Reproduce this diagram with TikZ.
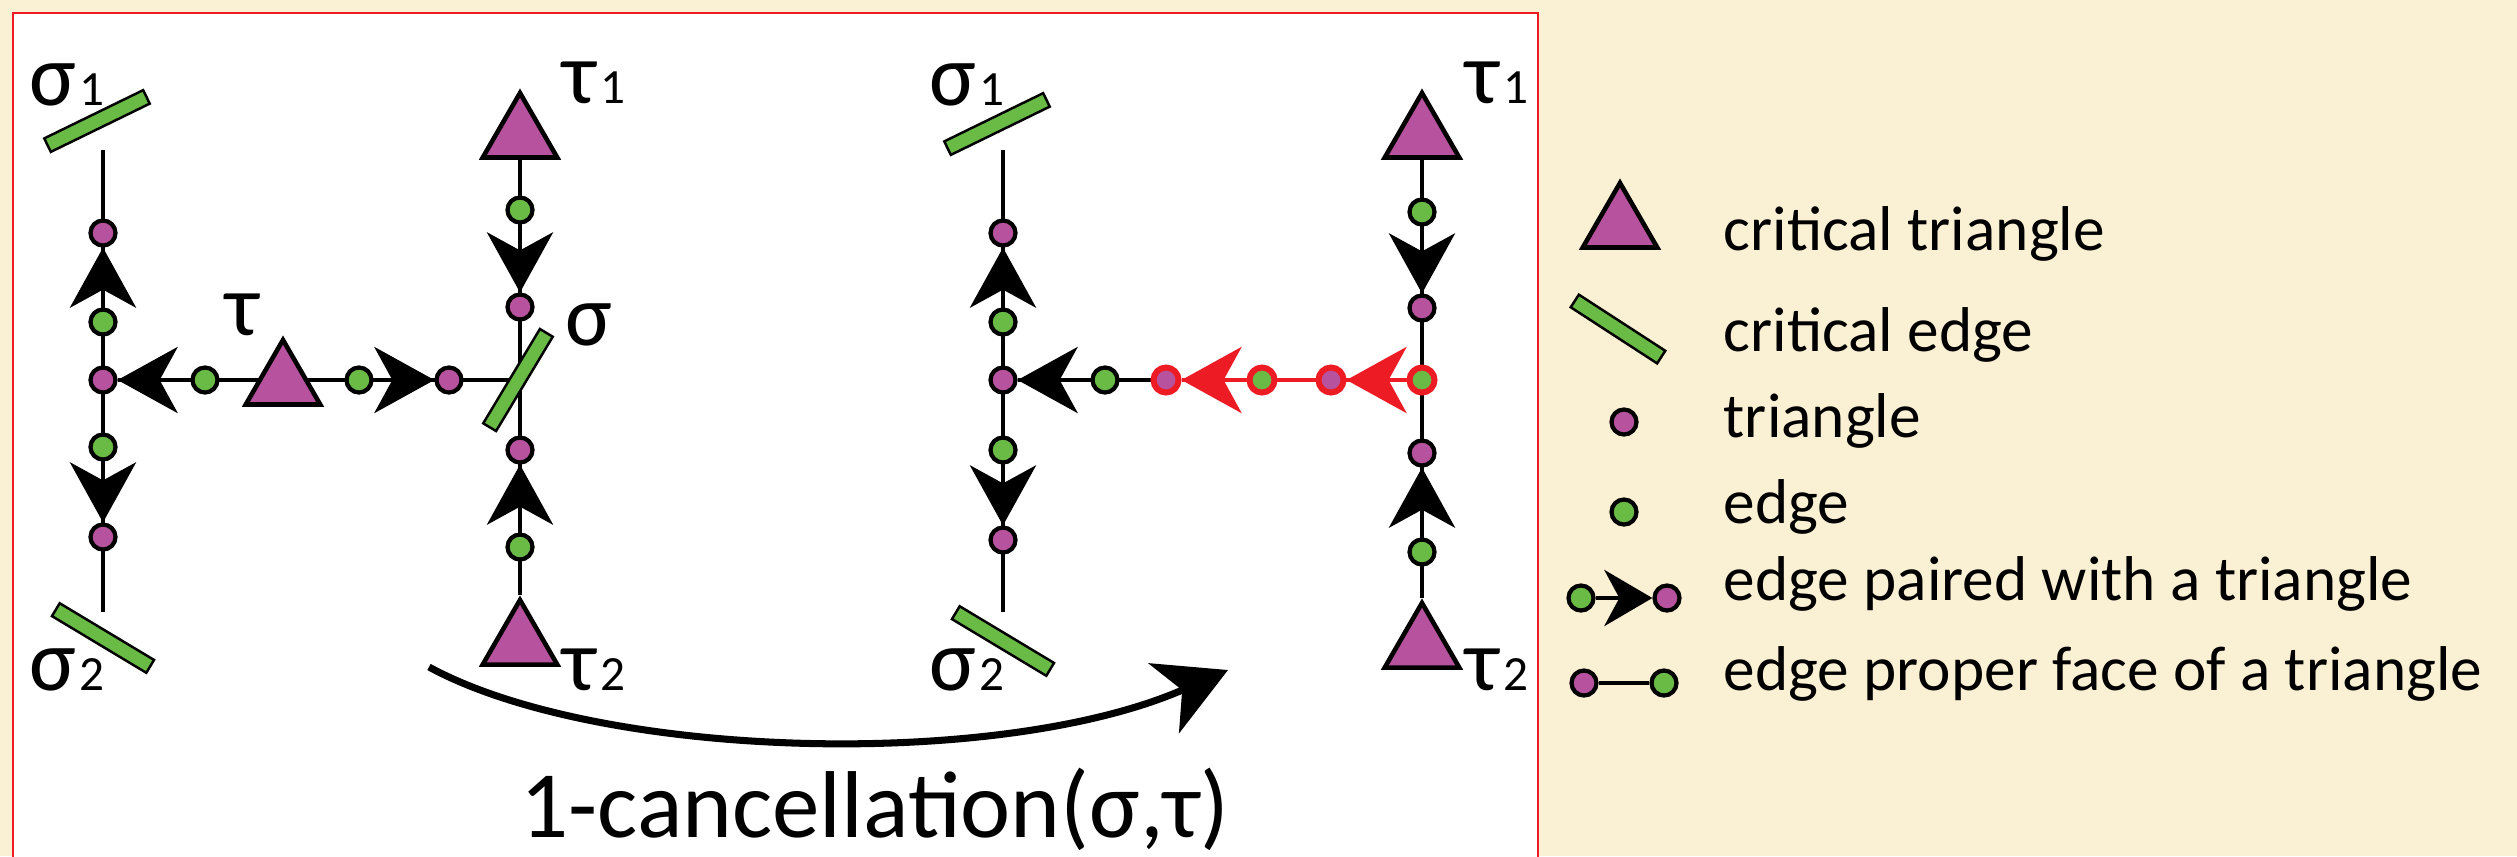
\documentclass[tikz,border=0pt]{standalone}
\usepackage{fontspec}
\setmainfont{Carlito}
\usetikzlibrary{positioning,arrows.meta,shapes.geometric,backgrounds}
\definecolor{cellmag}{RGB}{183,82,158}
\definecolor{cellgrn}{RGB}{106,187,69}
\definecolor{cellred}{RGB}{237,28,36}
\definecolor{paper}{RGB}{250,240,211}

\tikzset{
  tri/.style={circle,draw=black,fill=cellmag,line width=1.2pt,inner sep=0pt,minimum size=2.5mm},
  edg/.style={tri,fill=cellgrn},
  hot/.style={draw=cellred,line width=1.7pt},
  crittri/.style={regular polygon,regular polygon sides=3,draw=black,fill=cellmag,
                  line width=1.3pt,inner sep=0pt,minimum size=8.6mm},
  critedge/.style={rectangle,draw=black,fill=cellgrn,line width=0.7pt,inner sep=0pt,
                   minimum width=11mm,minimum height=1.5mm},
  link/.style={line width=1.4pt},
  pair/.style={link,-{Stealth[length=6mm,width=6.6mm,inset=1.8mm]}},
  lbl/.style={font=\fontsize{25}{25}\selectfont,inner sep=0pt,anchor=base west},
  legtext/.style={font=\fontsize{18}{18}\selectfont,inner sep=0pt,anchor=base west},
}
\newcommand{\simpl}[2]{#1\kern1pt{\fontsize{14}{14}\selectfont #2}}

\begin{document}
\begin{tikzpicture}[x=0.01cm,y=-0.01cm]
  \useasboundingbox (0,0) rectangle (2517,856);

  % ---- before: left diagram
  \coordinate (Ltop) at (103,150);
  \coordinate (Lbot) at (103,612);
  \coordinate (Lrj) at (520,380);
  \node[tri] (Lm1) at (103,233) {};
  \node[edg] (Lg1) at (103,322) {};
  \node[tri] (Lmj) at (103,380) {};
  \node[edg] (Lg2) at (103,447) {};
  \node[tri] (Lm2) at (103,537) {};
  \node[crittri] (Lt1) at (520,136) {};
  \node[edg] (Lg3) at (520,210) {};
  \node[tri] (Lm3) at (520,307) {};
  \node[tri] (Lm4) at (520,450) {};
  \node[edg] (Lg4) at (520,547) {};
  \node[crittri] (Lt2) at (520,643) {};
  \node[edg] (Lg5) at (205,380) {};
  \node[crittri] (Lt) at (283,383) {};
  \node[edg] (Lg6) at (359,380) {};
  \node[tri] (Lm5) at (449,380) {};
  \node[critedge,rotate=26] (Ls1) at (97,121) {};
  \node[critedge,rotate=-31] (Ls2) at (103,638) {};
  \node[critedge,rotate=59] (Ls) at (518,380) {};
  \foreach \a/\b in {Lg1/Lm1,Lg2/Lm2,Lg3/Lm3,Lg4/Lm4,Lg5/Lmj,Lg6/Lm5}
    \draw[pair] (\a) -- (\b);
  \node[lbl] (Lls1) at (29,105) {\simpl{σ}{1}};
  \node[lbl] (Llt1) at (562,103) {\simpl{τ}{1}};
  \node[lbl] (Llt) at (225,335) {τ};
  \node[lbl] (Lls) at (565,345) {σ};
  \node[lbl] (Lls2) at (29,690) {\simpl{σ}{2}};
  \node[lbl] (Llt2) at (562,690) {\simpl{τ}{2}};

  % ---- after: right diagram
  \coordinate (Rtop) at (1003,150);
  \coordinate (Rbot) at (1003,612);
  \node[tri] (Rm1) at (1003,233) {};
  \node[edg] (Rg1) at (1003,322) {};
  \node[tri] (Rmj) at (1003,380) {};
  \node[edg] (Rg2) at (1003,450) {};
  \node[tri] (Rm2) at (1003,540) {};
  \node[crittri] (Rt1) at (1422,136) {};
  \node[edg] (Rg3) at (1422,212) {};
  \node[tri] (Rm3) at (1422,308) {};
  \node[edg,hot] (Rgj) at (1422,380) {};
  \node[tri] (Rm4) at (1422,453) {};
  \node[edg] (Rg4) at (1422,552) {};
  \node[crittri] (Rt2) at (1422,646) {};
  \node[edg] (Rg5) at (1105,380) {};
  \node[tri,hot] (Rm6) at (1166,380) {};
  \node[edg,hot] (Rg6) at (1262,380) {};
  \node[tri,hot] (Rm7) at (1331,380) {};
  \node[critedge,rotate=26] (Rs1) at (997,124) {};
  \node[critedge,rotate=-31] (Rs2) at (1003,641) {};
  \foreach \a/\b in {Rg1/Rm1,Rg2/Rm2,Rg3/Rm3,Rg4/Rm4,Rg5/Rmj}
    \draw[pair] (\a) -- (\b);
  \draw[pair,cellred,-{Stealth[length=6mm,width=6.6mm,inset=1.8mm,fill=cellred]}] (Rg6) -- (Rm6);
  \draw[pair,cellred,-{Stealth[length=6mm,width=6.6mm,inset=1.8mm,fill=cellred]}] (Rgj) -- (Rm7);
  \node[lbl] (Rls1) at (929,105) {\simpl{σ}{1}};
  \node[lbl] (Rlt1) at (1465,103) {\simpl{τ}{1}};
  \node[lbl] (Rls2) at (929,690) {\simpl{σ}{2}};
  \node[lbl] (Rlt2) at (1465,690) {\simpl{τ}{2}};

  % ---- the move between them
  \coordinate (cs) at (429,667);
  \coordinate (ce) at (1228,670);
  \draw[line width=2pt,-{Stealth[length=7mm,width=7.6mm,inset=2mm]}]
    (cs) .. controls (600,760) and (1000,770) .. (ce);
  \node[font=\fontsize{27}{27}\selectfont,inner sep=0pt,anchor=base] (move) at (875,837)
    {1-cancellation(σ,τ)};

  % ---- legend
  \node[crittri] (k1) at (1620,226) {};
  \node[critedge,rotate=-33,minimum width=10.3mm] (k2) at (1618,329) {};
  \node[tri] (k3) at (1624,422) {};
  \node[edg] (k4) at (1624,512) {};
  \node[edg] (k5a) at (1581,598) {};
  \node[tri] (k5b) at (1667,598) {};
  \draw[link,-{Stealth[length=4.8mm,width=5.6mm,inset=1.5mm]}] (k5a) -- (k5b);
  \node[tri] (k6a) at (1584,683) {};
  \node[edg] (k6b) at (1664,683) {};
  \draw[link] (k6a) -- (k6b);
  \node[legtext] (t1) at (1723,250) {critical triangle};
  \node[legtext] (t2) at (1723,351) {critical edge};
  \node[legtext] (t3) at (1723,437) {triangle};
  \node[legtext] (t4) at (1723,523) {edge};
  \node[legtext] (t5) at (1723,600) {edge paired with a triangle};
  \node[legtext] (t6) at (1723,690) {edge proper face of a triangle};

  % ---- paper, panel and the lines under the nodes
  \begin{scope}[on background layer]
    \fill[paper] (0,0) rectangle (2517,856);
    \draw[cellred,fill=white,line width=0.5pt] (13,13) rectangle (1538,900);
    \draw[link] (Ltop) -- (Lbot);
    \draw[link] (Lt1) -- (Lt2);
    \draw[link] (Lmj) -- (Lrj);
    \draw[link] (Rtop) -- (Rbot);
    \draw[link] (Rt1) -- (Rt2);
    \draw[link] (Rmj) -- (Rm6);
    \draw[link,cellred] (Rm6) -- (Rgj);
  \end{scope}
\end{tikzpicture}
\end{document}
